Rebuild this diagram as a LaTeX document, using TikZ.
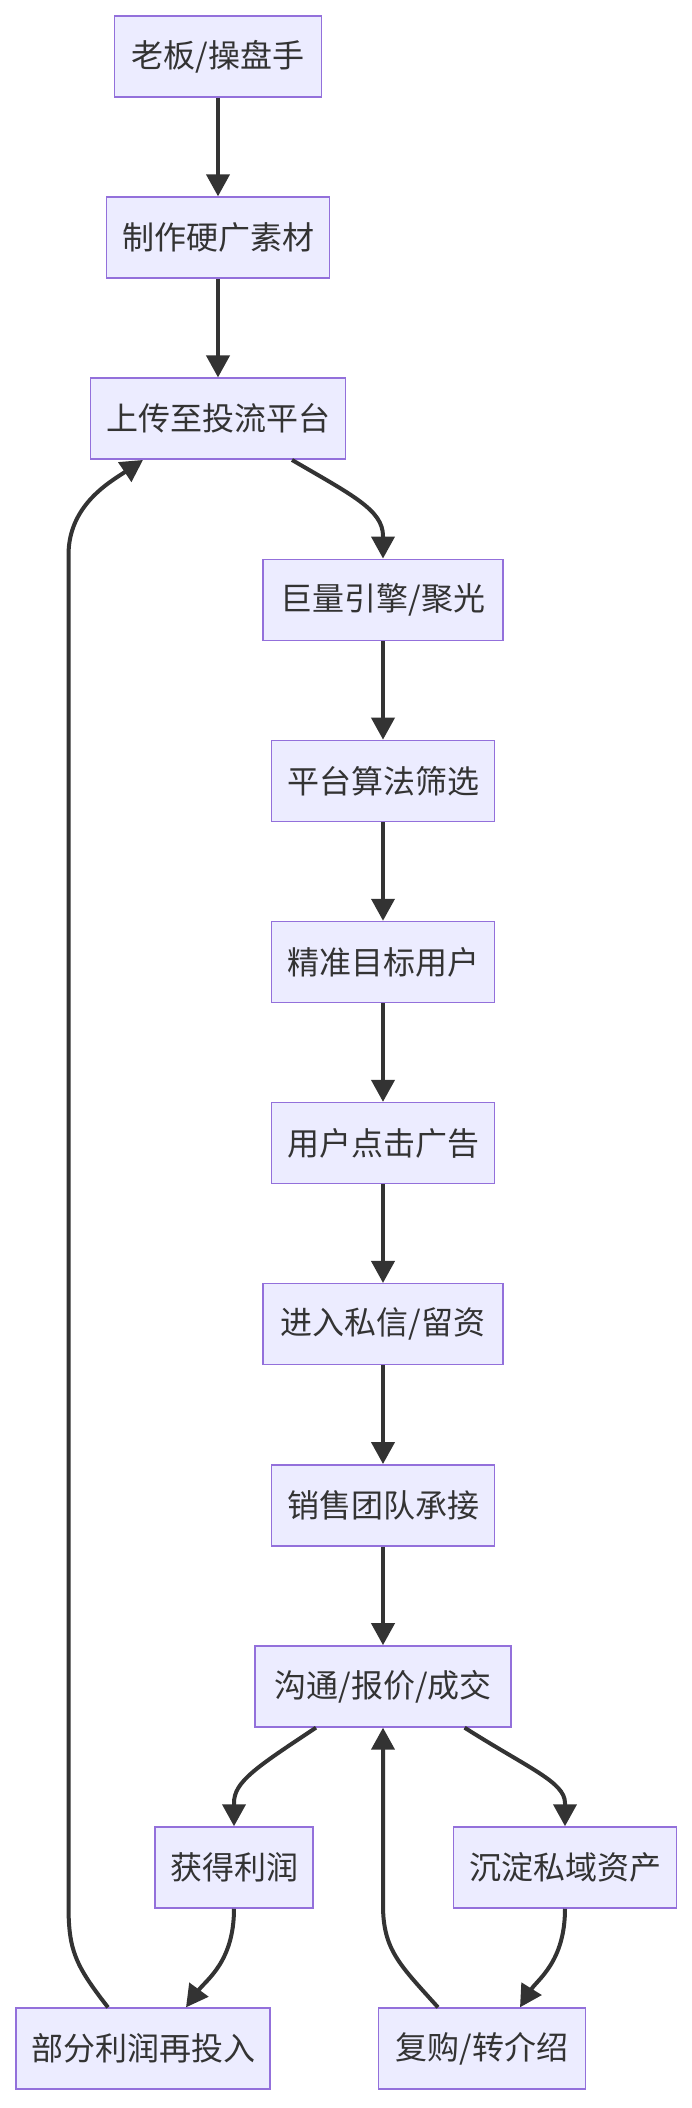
\documentclass[tikz,border=0pt]{standalone}
\usepackage{fontspec}
\setmainfont{Noto Sans CJK SC}
\usetikzlibrary{arrows.meta}
\definecolor{boxfill}{HTML}{ECECFF}
\definecolor{boxline}{HTML}{9370DB}
\definecolor{edgeline}{HTML}{333333}

\begin{document}
\begin{tikzpicture}[x=1pt, y=-1pt,
          proc/.style={draw=boxline, fill=boxfill, line width=1.5pt, text=edgeline,
            minimum height=81pt, inner xsep=15pt, font=\fontsize{32}{38}\selectfont},
          flow/.style={draw=edgeline, line width=4pt, -{Triangle[length=22pt, width=23pt]}},
        ]
          \useasboundingbox (0,0) rectangle (692,2108);
          \node[proc, minimum width=207pt] (boss)     at (218,  56.5) {老板/操盘手};
          \node[proc, minimum width=223pt] (material) at (218, 237.6) {制作硬广素材};
          \node[proc, minimum width=255pt] (upload)   at (218, 418.7) {上传至投流平台};
          \node[proc, minimum width=240pt] (engine)   at (383, 599.8) {巨量引擎/聚光};
          \node[proc, minimum width=223pt] (algo)     at (383, 780.9) {平台算法筛选};
          \node[proc, minimum width=223pt] (target)   at (383, 962.0) {精准目标用户};
          \node[proc, minimum width=223pt] (click)    at (383,1143.1) {用户点击广告};
          \node[proc, minimum width=240pt] (lead)     at (383,1324.2) {进入私信/留资};
          \node[proc, minimum width=223pt] (sales)    at (383,1505.3) {销售团队承接};
          \node[proc, minimum width=256pt] (deal)     at (383,1686.4) {沟通/报价/成交};
          \node[proc, minimum width=158pt] (profit)   at (234,1867.5) {获得利润};
          \node[proc, minimum width=223pt] (asset)    at (565,1867.5) {沉淀私域资产};
          \node[proc, minimum width=254pt] (reinvest) at (143,2048.6) {部分利润再投入};
          \node[proc, minimum width=207pt] (rebuy)    at (482,2048.6) {复购/转介绍};
          \draw[flow] (boss) -- (material);
          \draw[flow] (material) -- (upload);
          \draw[flow] ([xshift=74pt]upload.south) .. controls (352,495) and (383,510) .. (383,536) -- (engine.north);
          \draw[flow] (engine) -- (algo);
          \draw[flow] (algo) -- (target);
          \draw[flow] (target) -- (click);
          \draw[flow] (click) -- (lead);
          \draw[flow] (lead) -- (sales);
          \draw[flow] (sales) -- (deal);
          \draw[flow] ([xshift=-67pt]deal.south) .. controls (255,1768) and (234,1782) .. (234,1803) -- (profit.north);
          \draw[flow] ([xshift=81.6pt]deal.south) .. controls (528,1768) and (565,1782) .. (565,1803) -- (asset.north);
          \draw[flow] (profit.south) .. controls (234,1962) and (206,1980) .. ([xshift=43pt]reinvest.north);
          \draw[flow] (asset.south) .. controls (565,1962) and (537,1980) .. ([xshift=38pt]rebuy.north);
          \draw[flow] ([xshift=-44pt]rebuy.north) .. controls (400,1965) and (383,1950) .. (383,1905) -- (deal.south);
          \draw[flow] ([xshift=-35pt]reinvest.north) .. controls (75,1965) and (68.5,1950) .. (68.5,1905)
            -- (68.5,555) .. controls (68.5,505) and (110,482) .. ([xshift=-75pt]upload.south);
        \end{tikzpicture}
\end{document}
